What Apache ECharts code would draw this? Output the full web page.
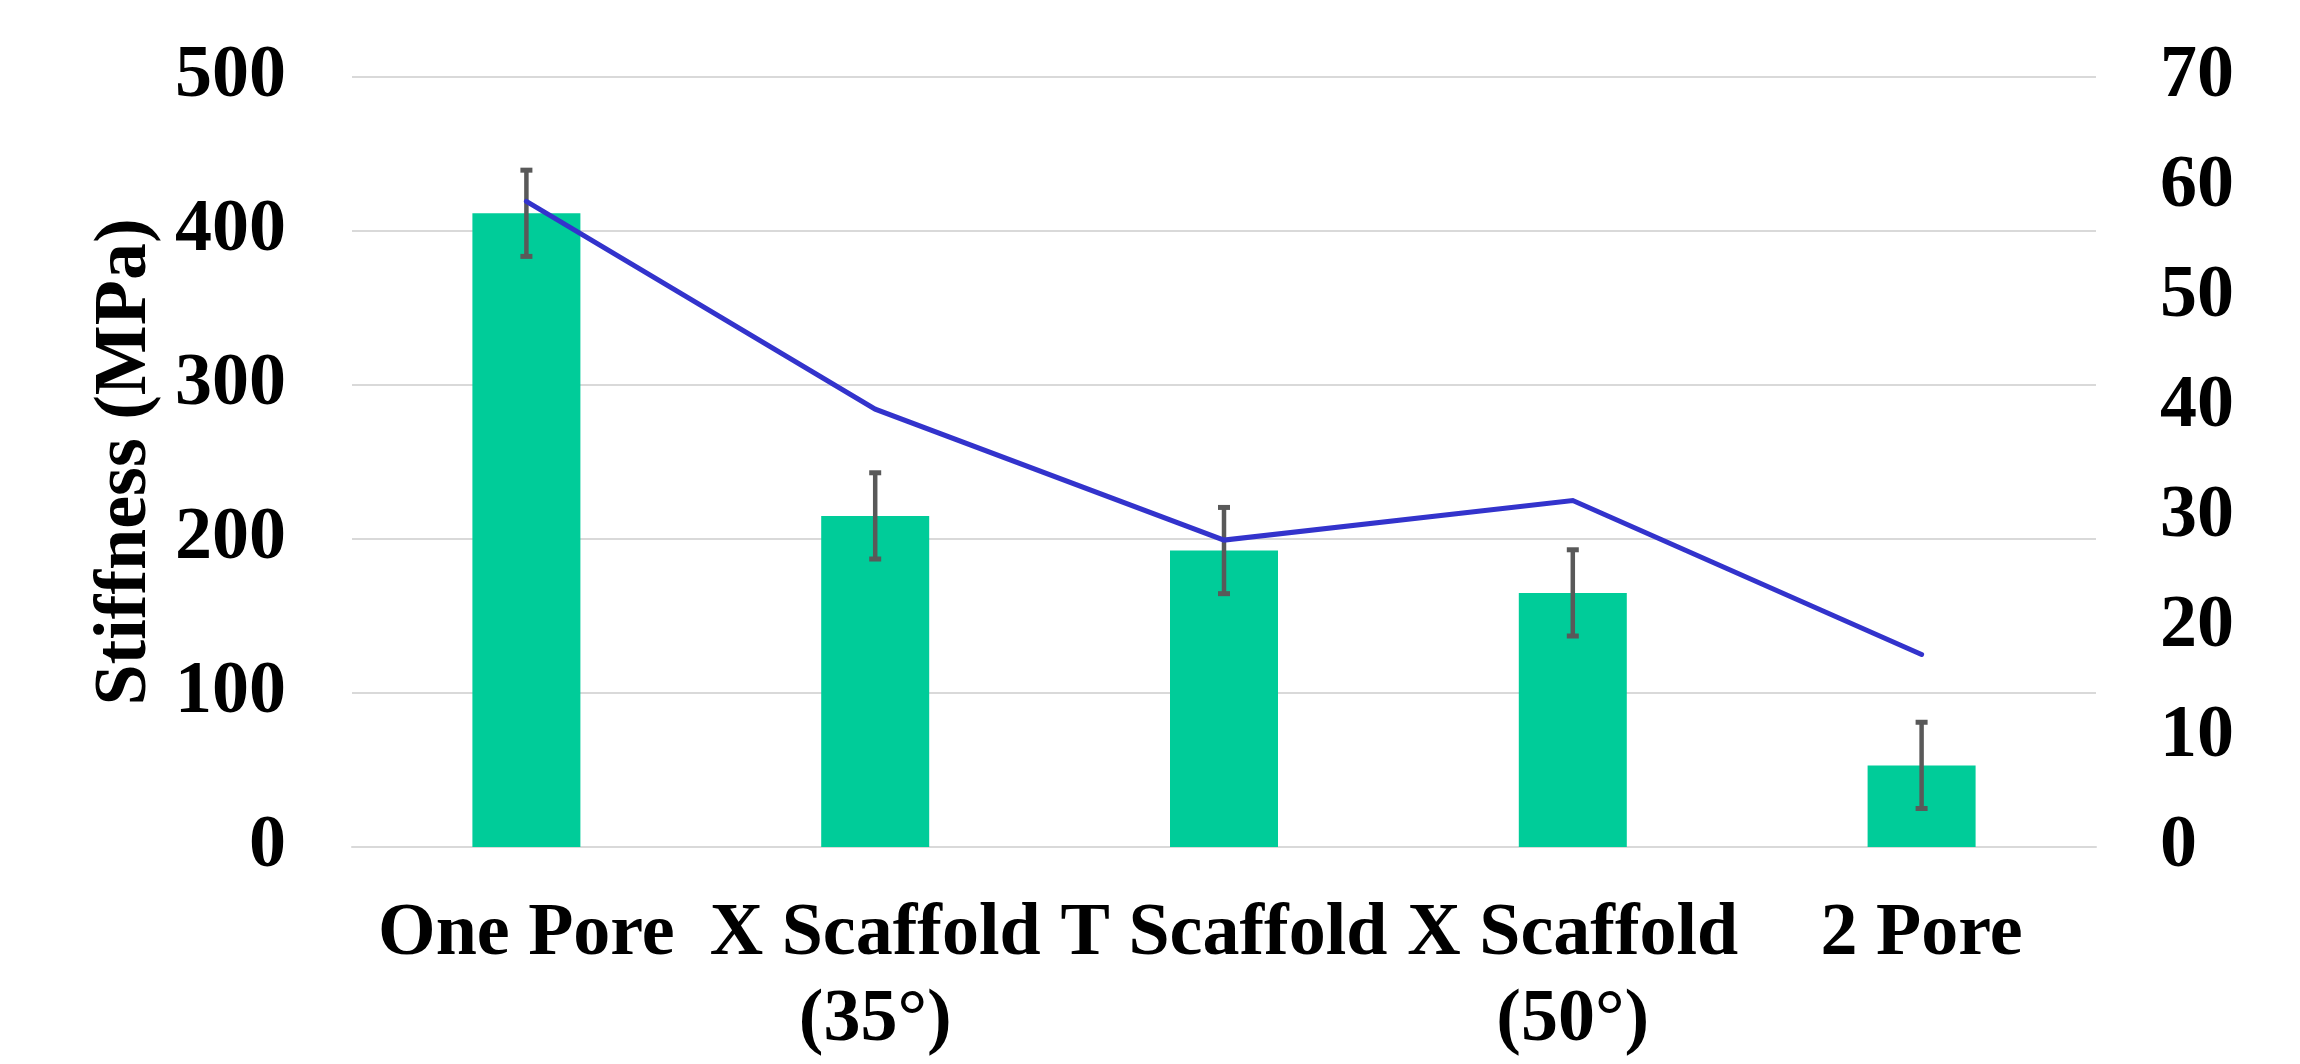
<!DOCTYPE html>
<html>
<head>
<meta charset="utf-8">
<script src="https://cdn.jsdelivr.net/npm/echarts@6/dist/echarts.min.js"></script>
<style>
html,body{margin:0;padding:0;background:#fff;overflow:hidden;}
#chart{width:2300px;height:1064px;}
</style>
</head>
<body>
<div id="chart"></div>
<script>
const categories = ['One Pore', 'X Scaffold (35°)', 'T Scaffold', 'X Scaffold (50°)', '2 Pore'];
const stiffness = [411.5, 215, 192.5, 165, 53];
const stiffnessErr = [28, 28, 28, 28, 28];
const rightValues = [58.7, 39.8, 27.9, 31.5, 17.5];
const leftAxisMin = 0, leftAxisMax = 500, leftAxisStep = 100;
const rightAxisMin = 0, rightAxisMax = 70, rightAxisStep = 10;
const yAxisTitle = 'Stiffness (MPa)';

const errData = stiffness.map((v, i) => [i, v - stiffnessErr[i], v + stiffnessErr[i]]);
const FONT = "'Liberation Serif','Times New Roman',serif";

const chart = echarts.init(document.getElementById('chart'), null, {renderer: 'canvas'});
chart.setOption({
  animation: false,
  backgroundColor: '#ffffff',
  grid: {left: 352, right: 204, top: 77, bottom: 211, containLabel: false},
  xAxis: {
    type: 'category',
    data: categories,
    axisLine: {show: true, lineStyle: {color: '#D9D9D9', width: 2}},
    axisTick: {show: false},
    axisLabel: {
      interval: 0,
      margin: 45,
      color: '#000',
      fontFamily: FONT,
      fontWeight: 'bold',
      fontSize: 74,
      lineHeight: 86,
      formatter: v => v.replace(' (', '\n(')
    }
  },
  yAxis: [
    {
      type: 'value',
      min: leftAxisMin, max: leftAxisMax, interval: leftAxisStep,
      name: yAxisTitle,
      nameLocation: 'middle',
      nameRotate: 90,
      nameGap: 189,
      nameTextStyle: {color: '#000', fontFamily: FONT, fontWeight: 'bold', fontSize: 74},
      axisLine: {show: false},
      axisTick: {show: false},
      splitLine: {show: true, lineStyle: {color: '#D9D9D9', width: 2}},
      axisLabel: {margin: 66, color: '#000', fontFamily: FONT, fontWeight: 'bold', fontSize: 74}
    },
    {
      type: 'value',
      position: 'right',
      min: rightAxisMin, max: rightAxisMax, interval: rightAxisStep,
      axisLine: {show: false},
      axisTick: {show: false},
      splitLine: {show: false},
      axisLabel: {margin: 64, color: '#000', fontFamily: FONT, fontWeight: 'bold', fontSize: 74}
    }
  ],
  series: [
    {
      type: 'bar',
      data: stiffness,
      yAxisIndex: 0,
      barWidth: 108,
      itemStyle: {color: '#00CC99'},
      z: 2
    },
    {
      type: 'custom',
      yAxisIndex: 0,
      data: errData,
      z: 3,
      renderItem: function (params, api) {
        const x = api.value(0);
        const lo = api.coord([x, api.value(1)]);
        const hi = api.coord([x, api.value(2)]);
        const cap = 6;
        return {
          type: 'group',
          children: [
            {type: 'line', shape: {x1: lo[0], y1: lo[1], x2: hi[0], y2: hi[1]}, style: {stroke: '#595959', lineWidth: 4.5}},
            {type: 'line', shape: {x1: hi[0] - cap, y1: hi[1], x2: hi[0] + cap, y2: hi[1]}, style: {stroke: '#595959', lineWidth: 5}},
            {type: 'line', shape: {x1: lo[0] - cap, y1: lo[1], x2: lo[0] + cap, y2: lo[1]}, style: {stroke: '#595959', lineWidth: 5}}
          ]
        };
      }
    },
    {
      type: 'line',
      yAxisIndex: 1,
      data: rightValues,
      showSymbol: false,
      symbol: 'none',
      lineStyle: {color: '#3333CC', width: 5, cap: 'round', join: 'miter'},
      z: 4
    }
  ]
});
</script>
</body>
</html>
